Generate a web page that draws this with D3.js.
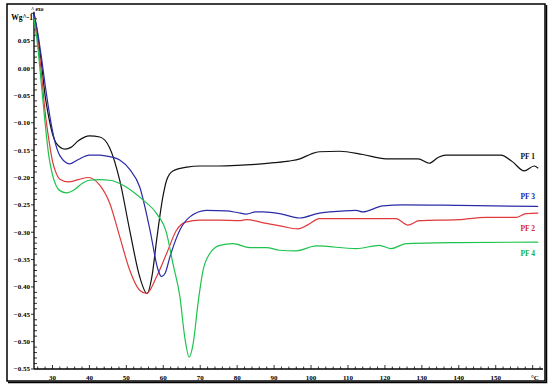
<!DOCTYPE html>
<html>
<head>
<meta charset="utf-8">
<script src="https://cdn.jsdelivr.net/npm/d3@7"></script>
<style>
  body { margin: 0; background: #fff; }
  text { font-family: 'Liberation Serif', 'Times New Roman', serif; font-weight: bold; }
</style>
</head>
<body>
<svg width="550" height="387"></svg>
<script>
// DSC curves, temperature (°C) vs heat flow (W/g)
const pf1Temp = [25, 26, 27, 28, 29, 30, 31, 33.4, 35, 37, 40, 42.8, 45.5, 48.2, 50.9, 53.6, 55.6, 57, 58.2, 59.9, 60.9, 62.6, 66.4, 70, 75, 80, 85, 90, 94, 97, 100, 102.3, 107.7, 114, 120.3, 129, 132, 134.5, 136.5, 145, 151.4, 154.5, 157.7, 160.4, 161.5];
const pf1Flow = [0.1, 0.06, 0.01, -0.05, -0.09, -0.12, -0.137, -0.148, -0.145, -0.133, -0.124, -0.126, -0.146, -0.205, -0.296, -0.381, -0.412, -0.378, -0.314, -0.235, -0.205, -0.188, -0.181, -0.179, -0.179, -0.178, -0.176, -0.173, -0.170, -0.166, -0.157, -0.153, -0.152, -0.158, -0.166, -0.166, -0.174, -0.163, -0.159, -0.159, -0.159, -0.171, -0.188, -0.179, -0.183];

const pf2Temp = [25, 26, 27, 28, 29, 30, 31, 32, 34.3, 37, 39.7, 42.8, 45.5, 48.2, 50.9, 53.6, 55.5, 58.2, 60.9, 63.6, 66.3, 69.9, 75, 80.7, 82.5, 87.9, 92, 96.4, 99, 102.3, 110, 123, 126.2, 129.3, 140, 147.4, 155.5, 158.2, 161.5];
const pf2Flow = [0.095, 0.05, -0.01, -0.08, -0.13, -0.17, -0.192, -0.203, -0.208, -0.204, -0.200, -0.214, -0.247, -0.308, -0.369, -0.406, -0.412, -0.381, -0.339, -0.296, -0.281, -0.278, -0.278, -0.279, -0.277, -0.284, -0.289, -0.294, -0.287, -0.275, -0.275, -0.275, -0.287, -0.279, -0.277, -0.273, -0.273, -0.266, -0.265];

const pf3Temp = [25, 26, 27, 28, 29.6, 30.5, 32, 34.7, 37, 40, 42.8, 45.5, 48.2, 50.9, 53.6, 56.4, 58.6, 59.5, 60.5, 61.8, 64.5, 67.2, 71.7, 77.1, 80, 82.5, 85, 87, 91.5, 96.9, 102.3, 105, 112.2, 114, 119.4, 125, 140, 161.5];
const pf3Flow = [0.1, 0.065, 0.02, -0.03, -0.10, -0.13, -0.16, -0.175, -0.167, -0.159, -0.159, -0.162, -0.168, -0.185, -0.217, -0.296, -0.369, -0.381, -0.375, -0.345, -0.296, -0.272, -0.260, -0.261, -0.264, -0.267, -0.263, -0.263, -0.266, -0.274, -0.265, -0.263, -0.260, -0.263, -0.252, -0.250, -0.251, -0.253];

const pf4Temp = [25, 26, 27, 28, 29, 30, 31, 32, 33.8, 36, 38, 40, 42.8, 45.5, 48.2, 51.8, 54.5, 58.2, 60.9, 62.6, 64.5, 65.8, 67, 68.1, 69.4, 70.8, 72.6, 75.3, 78.9, 83.4, 87.9, 91.5, 96, 101.4, 112.2, 118.5, 121.7, 125.7, 140, 161.5];
const pf4Flow = [0.09, 0.04, -0.03, -0.1, -0.16, -0.195, -0.215, -0.224, -0.228, -0.222, -0.211, -0.205, -0.204, -0.205, -0.211, -0.226, -0.241, -0.266, -0.302, -0.357, -0.418, -0.491, -0.528, -0.503, -0.43, -0.369, -0.339, -0.324, -0.321, -0.328, -0.328, -0.333, -0.334, -0.325, -0.33, -0.324, -0.33, -0.321, -0.319, -0.318];

const seriesNames = ['PF 1', 'PF 2', 'PF 3', 'PF 4'];
const xTickLabels = [30, 40, 50, 60, 70, 80, 90, 100, 110, 120, 130, 140, 150];
const yTickLabels = [0.05, 0.00, -0.05, -0.10, -0.15, -0.20, -0.25, -0.30, -0.35, -0.40, -0.45, -0.50, -0.55];

const svg = d3.select('svg');

const xScale = d3.scaleLinear().domain([25, 162.8]).range([34, 543]);
const yScale = d3.scaleLinear().domain([-0.55, 0.103]).range([369, 11.7]);

// outer frame
svg.append('rect')
  .attr('x', 7).attr('y', 4).attr('width', 538).attr('height', 377)
  .attr('fill', 'none').attr('stroke', '#000').attr('stroke-width', 1.5);
svg.append('path')
  .attr('d', 'M546.5,5 V382.5 H8')
  .attr('fill', 'none').attr('stroke', '#000').attr('stroke-width', 1.5);

// axes lines
svg.append('line')
  .attr('x1', 34).attr('x2', 34).attr('y1', yScale(0.103)).attr('y2', 369)
  .attr('stroke', '#000').attr('stroke-width', 1.3);
svg.append('line')
  .attr('x1', 34).attr('x2', 543).attr('y1', 369).attr('y2', 369)
  .attr('stroke', '#000').attr('stroke-width', 1.3);

// y ticks
const yMinor = d3.range(-55, 11).map(d => d / 100);
svg.append('g').selectAll('line').data(yMinor).enter().append('line')
  .attr('x1', 34)
  .attr('x2', d => Math.abs(Math.round(d * 100) % 5) === 0 ? 31 : 37)
  .attr('y1', d => yScale(d)).attr('y2', d => yScale(d))
  .attr('stroke', '#000').attr('stroke-width', 0.8);

svg.append('g').selectAll('text').data(yTickLabels).enter().append('text')
  .attr('x', 30)
  .attr('y', d => yScale(d))
  .attr('dy', '0.35em')
  .attr('text-anchor', 'end')
  .attr('font-size', 7)
  .text(d => d3.format('.2f')(d));

svg.append('text')
  .attr('x', 33).attr('y', 17).attr('dy', '0.35em')
  .attr('text-anchor', 'end').attr('font-size', 7.5)
  .text('Wg^-1');
svg.append('text')
  .attr('x', 31).attr('y', 10.5)
  .attr('font-size', 5.5).attr('font-weight', 'normal')
  .text('^ exo');

// x ticks
const xMinor = d3.range(26, 163, 2);
svg.append('g').selectAll('line').data(xMinor).enter().append('line')
  .attr('x1', d => xScale(d)).attr('x2', d => xScale(d))
  .attr('y1', 369)
  .attr('y2', d => d % 10 === 0 ? 365 : 366.5)
  .attr('stroke', '#000').attr('stroke-width', 0.8);

svg.append('g').selectAll('text').data(xTickLabels).enter().append('text')
  .attr('x', d => xScale(d))
  .attr('y', 380)
  .attr('text-anchor', 'middle')
  .attr('font-size', 7)
  .text(d => d);
svg.append('text')
  .attr('x', 535).attr('y', 380)
  .attr('text-anchor', 'middle').attr('font-size', 7)
  .text('°C');

// curves
const series = [
  { name: seriesNames[0], temp: pf1Temp, flow: pf1Flow, color: '#111111', text: '#111111', ly: 156 },
  { name: seriesNames[1], temp: pf2Temp, flow: pf2Flow, color: '#e0393b', text: '#d42a2a', ly: 228.5 },
  { name: seriesNames[2], temp: pf3Temp, flow: pf3Flow, color: '#2b2ba8', text: '#2323a8', ly: 196 },
  { name: seriesNames[3], temp: pf4Temp, flow: pf4Flow, color: '#1ec24e', text: '#16b040', ly: 253.5 }
];

const line = d3.line()
  .x(d => xScale(d[0]))
  .y(d => yScale(d[1]))
  .curve(d3.curveMonotoneX);

svg.append('g').selectAll('path').data(series).enter().append('path')
  .attr('d', s => line(s.temp.map((t, i) => [t, s.flow[i]])))
  .attr('fill', 'none')
  .attr('stroke', s => s.color)
  .attr('stroke-width', 1.2);

svg.append('g').selectAll('text').data(series).enter().append('text')
  .attr('x', 535)
  .attr('y', s => s.ly)
  .attr('dy', '0.35em')
  .attr('text-anchor', 'end')
  .attr('font-size', 7.5)
  .attr('fill', s => s.text)
  .text(s => s.name);
</script>
</body>
</html>
